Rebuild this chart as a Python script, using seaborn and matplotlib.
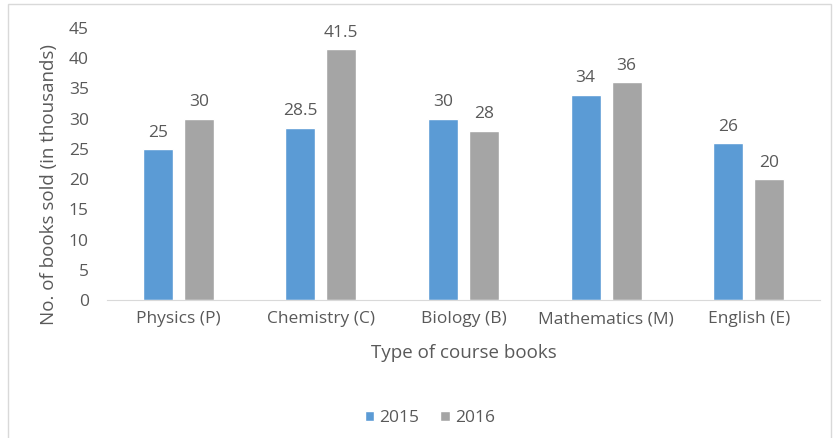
import matplotlib
matplotlib.use('Agg')
import matplotlib.pyplot as plt
import seaborn as sns
import pandas as pd
from matplotlib.patches import Rectangle

subjects = ['Physics (P)', 'Chemistry (C)', 'Biology (B)', 'Mathematics (M)', 'English (E)']
sales_2015 = [25, 28.5, 30, 34, 26]
sales_2016 = [30, 41.5, 28, 36, 20]
years = ['2015', '2016']
y_ticks = [0, 5, 10, 15, 20, 25, 30, 35, 40, 45]

df = pd.DataFrame({
    'subject': subjects * 2,
    'sales': sales_2015 + sales_2016,
    'year': [years[0]] * len(subjects) + [years[1]] * len(subjects),
})

sns.set_style('white')
plt.rcParams['font.family'] = ['Open Sans', 'DejaVu Sans']
txt = '#595959'

fig = plt.figure(figsize=(8.35, 4.38), dpi=100)
ax = fig.add_axes([0.128, 0.315, 0.854, 0.621])

sns.barplot(data=df, x='subject', y='sales', hue='year', order=subjects, hue_order=years,
            palette=['#5B9BD5', '#A5A5A5'], width=0.575, gap=0.27, saturation=1,
            ax=ax, legend=True)

for c in ax.containers:
    labels = [f'{v:g}' for v in c.datavalues]
    ax.bar_label(c, labels=labels, padding=6, fontsize=12.5, color=txt)

ax.set_ylim(0, 45)
ax.set_xlim(-0.5, 4.5)
ax.set_yticks(y_ticks)
ax.tick_params(axis='both', length=0, labelsize=12.5, colors=txt)
ax.tick_params(axis='x', pad=8)
ax.tick_params(axis='y', pad=13)
for s in ['top', 'right', 'left']:
    ax.spines[s].set_visible(False)
ax.spines['bottom'].set_color('#D9D9D9')
ax.set_xlabel('Type of course books', fontsize=13.5, color=txt, labelpad=12)
ax.set_ylabel('No. of books sold (in thousands)', fontsize=13.5, color=txt)
ax.yaxis.set_label_coords(-0.069, 0.426)

handles, labs = ax.get_legend_handles_labels()
ax.legend(handles, labs, loc='center', bbox_to_anchor=(0.453, -0.434), ncol=2, frameon=False,
          fontsize=12.5, labelcolor=txt, handlelength=0.55, handleheight=0.55,
          handletextpad=0.3, columnspacing=1.2)

fig.patches.append(Rectangle((0.01, -0.01), 0.985, 1.0, transform=fig.transFigure,
                             fill=False, edgecolor='#D9D9D9', linewidth=1))

fig.savefig('out.png', dpi=100)
